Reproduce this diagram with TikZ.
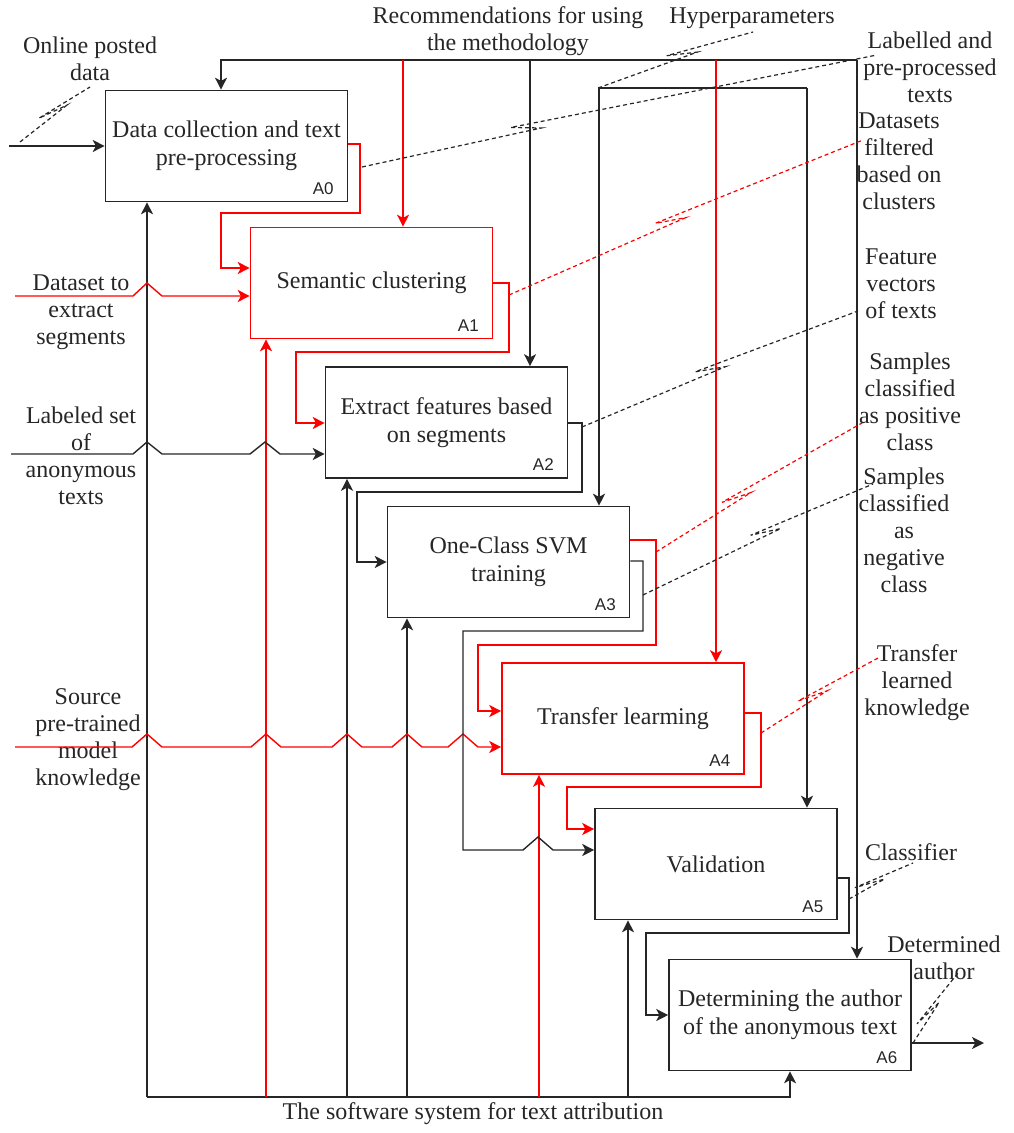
\documentclass[tikz,border=0pt]{standalone}
\usepackage{fontspec}
\setmainfont{Liberation Serif}
\newfontfamily\labfont{Liberation Sans}
\usetikzlibrary{arrows.meta,calc}
\definecolor{ink}{gray}{0.15}
\tikzset{
  proc/.style={draw=#1, line width=0.8pt, minimum width=121pt, minimum height=55.5pt,
    inner sep=0pt, align=center, text=ink, font=\fontsize{12}{13.8}\selectfont},
  proc/.default=ink,
  lab/.style={align=center, text=ink, font=\fontsize{12}{13.5}\selectfont, inner sep=0pt},
  aid/.style={text=ink, font=\labfont\fontsize{8.5}{10}\selectfont, inner sep=0pt},
  conn/.style={line width=0.7pt, draw=#1, -{Stealth[length=6pt,width=6pt,inset=1.6pt]}},
  conn/.default=ink,
  wire/.style={line width=0.7pt, draw=#1},
  wire/.default=ink,
  idefcall/.style={line width=0.6pt, draw=#1, dash pattern=on 2pt off 1.5pt},
  idefcall/.default=ink
}
\newcommand{\idefsquig}[4]{%
  \draw[idefcall=#1] (#2) -- ($(#2)!#4!(#3)!7.5pt!(#3)$)
    -- ($(#2)!#4!(#3)!-7.5pt!(#3)!3.5pt!90:(#3)$) -- (#3);}
\begin{document}
\begin{tikzpicture}[x=0.5pt,y=-0.5pt]
\useasboundingbox (0,0) rectangle (1013,1133);

% ---------- activity boxes ----------
\node[proc] (A0) at (226.5,146) {Data collection and text\\pre-processing};
\node[proc=red] (A1) at (371.5,283) {Semantic clustering};
\node[proc] (A2) at (446.5,422.5) {Extract features based\\on segments};
\node[proc] (A3) at (508.5,562) {One-Class SVM\\training};
\node[proc=red] (A4) at (623,718.5) {Transfer learming};
\node[proc] (A5) at (716,864) {Validation};
\node[proc] (A6) at (790,1015) {Determining the author\\of the anonymous text};

\foreach \n in {0,...,6}{
  \node[aid] (id\n) at ($(A\n.south east)+(-25,-14)$) {A\n};
}

% ---------- text labels ----------
\node[lab] (tRec) at (508,31) {Recommendations for using\\the methodology};
\node[lab] (tHyp) at (752,18) {Hyperparameters};
\node[lab] (tOnl) at (90,59) {Online posted\\data};
\node[lab] (tLab) at (930,67) {Labelled and\\pre-processed\\texts};
\node[lab] (tDsf) at (899,161) {Datasets\\filtered\\based on\\clusters};
\node[lab] (tFea) at (901,284) {Feature\\vectors\\of texts};
\node[lab] (tPos) at (910,402) {Samples\\classified\\as positive\\class};
\node[lab] (tNeg) at (904,530) {Samples\\classified\\as\\negative\\class};
\node[lab] (tTrk) at (917,683) {Transfer\\learned\\knowledge};
\node[lab] (tCls) at (911,852) {Classifier};
\node[lab] (tDet) at (944,958) {Determined\\author};
\node[lab] (tSw)  at (473,1114) {The software system for text attribution};
\node[lab] (tDse) at (81,312) {Dataset to\\extract\\segments};
\node[lab] (tLbs) at (81,456) {Labeled set\\of\\anonymous\\texts};
\node[lab] (tSrc) at (88,740) {Source\\pre-trained\\model\\knowledge};

% ---------- free ends ----------
\coordinate (inOnl) at (9,146);
\coordinate (inDse) at (15,296);
\coordinate (inLbs) at (11,454);
\coordinate (inSrc) at (15,747);
\coordinate (ctlL) at (221,60);
\coordinate (ctlR) at (857,60);
\coordinate (ctlM) at (530,60);
\coordinate (ctlR1) at (403,60);
\coordinate (ctlR2) at (716,60);
\coordinate (hypL) at (599,88);
\coordinate (hypR) at (807,88);
\coordinate (mchL) at (147,1097);
\coordinate (mchR) at (790,1097);
\coordinate (out6) at (984,1043);

% ---------- controls ----------
\draw[conn] (ctlR) -- (ctlL) -- (221,0 |- A0.north);
\draw[conn] (ctlM) -- (530,0 |- A2.north);
\draw[conn] (ctlR) -- (857,0 |- A6.north);
\draw[conn] (hypR) -- (hypL) -- (599,0 |- A3.north);
\draw[conn] (hypR) -- (807,0 |- A5.north);
\draw[conn=red] (ctlR1) -- (403,0 |- A1.north);
\draw[conn=red] (ctlR2) -- (716,0 |- A4.north);

% ---------- mechanisms ----------
\draw[conn] (mchL) -- (mchR) -- (790,0 |- A6.south);
\draw[conn] (mchL) -- (147,0 |- A0.south);
\draw[conn=red] (266,1097) -- (266,0 |- A1.south);
\draw[conn] (347,1097) -- (347,0 |- A2.south);
\draw[conn] (407,1097) -- (407,0 |- A3.south);
\draw[conn=red] (539,1097) -- (539,0 |- A4.south);
\draw[conn] (628,1097) -- (628,0 |- A5.south);

% ---------- inputs ----------
\draw[conn] (inOnl) -- (A0.west |- 0,146);
\draw[conn=red] (inDse) -- (133,296) -- (147,283) -- (162,296) -- (A1.west |- 0,296);
\draw[conn] (inLbs) -- (133,454) -- (147,442) -- (162,454) -- (250,454) -- (265,442)
   -- (280,454) -- (A2.west |- 0,454);
\draw[conn=red] (inSrc) -- (132,747) -- (147,734) -- (162,747) -- (251,747) -- (266,734)
   -- (281,747) -- (332,747) -- (347,734) -- (362,747) -- (392,747) -- (407,734)
   -- (422,747) -- (448,747) -- (463,734) -- (478,747) -- (A4.west |- 0,747);

% ---------- outputs between activities ----------
\draw[conn=red] (A0.east |- 0,144) -- (360,144) -- (360,213) -- (221,213) -- (221,268)
   -- (A1.west |- 0,268);
\draw[conn=red] (A1.east |- 0,283) -- (509,283) -- (509,352) -- (296,352) -- (296,423)
   -- (A2.west |- 0,423);
\draw[conn] (A2.east |- 0,423) -- (582,423) -- (582,492) -- (357,492) -- (357,562)
   -- (A3.west |- 0,562);
\draw[conn=red] (A3.east |- 0,540) -- (656,540) -- (656,645) -- (478,645) -- (478,711)
   -- (A4.west |- 0,711);
\draw[conn] (A3.east |- 0,561) -- (643,561) -- (643,631) -- (463,631) -- (463,850)
   -- (523,850) -- (538,837) -- (553,850) -- (A5.west |- 0,850);
\draw[conn=red] (A4.east |- 0,713) -- (761,713) -- (761,787) -- (567,787) -- (567,829)
   -- (A5.west |- 0,829);
\draw[conn] (A5.east |- 0,878) -- (849,878) -- (849,933) -- (646,933) -- (646,1015)
   -- (A6.west |- 0,1015);
\draw[conn] (A6.east |- 0,1043) -- (out6);

% ---------- dashed callouts ----------
\coordinate (c1a) at (20,142);   \coordinate (c1b) at (90,87);
\coordinate (c2a) at (362,167);  \coordinate (c2b) at (877,55);
\coordinate (c3a) at (598,88);   \coordinate (c3b) at (753,32);
\coordinate (c4a) at (509,295);  \coordinate (c4b) at (863,140);
\coordinate (c5a) at (582,427);  \coordinate (c5b) at (858,311);
\coordinate (c6a) at (656,552);  \coordinate (c6b) at (862,423);
\coordinate (c7a) at (643,595);  \coordinate (c7b) at (873,484);
\coordinate (c8a) at (761,733);  \coordinate (c8b) at (880,657);
\coordinate (c9a) at (849,899);  \coordinate (c9b) at (913,863);
\coordinate (c10a) at (913,1043); \coordinate (c10b) at (958,973);
\idefsquig{ink}{c1a}{c1b}{0.5}
\idefsquig{ink}{c2a}{c2b}{0.32}
\idefsquig{ink}{c3a}{c3b}{0.55}
\idefsquig{red}{c4a}{c4b}{0.46}
\idefsquig{ink}{c5a}{c5b}{0.47}
\idefsquig{red}{c6a}{c6b}{0.4}
\idefsquig{ink}{c7a}{c7b}{0.54}
\idefsquig{red}{c8a}{c8b}{0.45}
\idefsquig{ink}{c9a}{c9b}{0.35}
\idefsquig{ink}{c10a}{c10b}{0.4}
\end{tikzpicture}
\end{document}
